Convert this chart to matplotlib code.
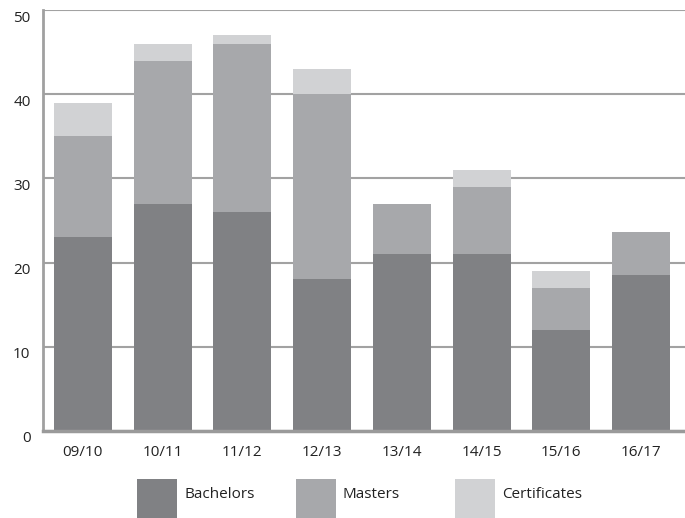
import matplotlib
matplotlib.use('Agg')
import matplotlib.pyplot as plt
import matplotlib.transforms as mtransforms
from matplotlib.patches import Rectangle
import numpy as np

years = ['09/10', '10/11', '11/12', '12/13', '13/14', '14/15', '15/16', '16/17']
bachelors = [23, 27, 26, 18, 21, 21, 12, 18.5]
masters = [12, 17, 20, 22, 6, 8, 5, 5.1]
certificates = [4, 2, 1, 3, 0, 2, 2, 0]
series_names = ['Bachelors', 'Masters', 'Certificates']
colors = ['#808184', '#a7a8ab', '#d1d2d4']
y_ticks = [0, 10, 20, 30, 40, 50]

plt.rcParams['font.family'] = ['Open Sans', 'DejaVu Sans']

fig = plt.figure(figsize=(6.85, 5.18), dpi=100)
ax = fig.add_axes([43 / 685, 87 / 518, 1 - 43 / 685, 421 / 518])

x = np.arange(len(years))
bottom = np.zeros(len(years))
for vals, col in zip([bachelors, masters, certificates], colors):
    vals = np.array(vals, dtype=float)
    ax.bar(x, vals, width=0.73, bottom=bottom, color=col, zorder=3, linewidth=0)
    bottom += vals

ax.set_xlim(-0.5, 7.55)
ax.set_ylim(0, 50)
ax.set_yticks(y_ticks)
ax.set_xticks(x)
ax.set_xticklabels(years)

# horizontal gridlines behind bars
ax.yaxis.grid(True, color='#a2a2a2', linewidth=1.5, zorder=0)
ax.set_axisbelow(True)

for side in ['top', 'right']:
    ax.spines[side].set_visible(False)
ax.spines['left'].set_color('#a0a0a0')
ax.spines['left'].set_linewidth(2)
ax.spines['bottom'].set_color('#9a9a9a')
ax.spines['bottom'].set_linewidth(2.5)
ax.spines['bottom'].set_zorder(4)

ax.tick_params(axis='both', length=0, labelsize=11, colors='#222222')
ax.tick_params(axis='x', pad=10)
ax.tick_params(axis='y', pad=9)

# nudge y labels slightly below their gridlines
offset = mtransforms.ScaledTranslation(0, -6 / 100, fig.dpi_scale_trans)
for lbl in ax.get_yticklabels():
    lbl.set_transform(lbl.get_transform() + offset)

# legend boxes along the bottom
legend_x = [137, 296, 455]
for lx, name, col in zip(legend_x, series_names, colors):
    fig.patches.append(Rectangle((lx / 685, 0), 40 / 685, 39 / 518,
                                 transform=fig.transFigure, color=col, linewidth=0))
    fig.text((lx + 47) / 685, 23 / 518, name, fontsize=11, color='#222222',
             va='center', ha='left')

fig.savefig('out.png', dpi=100)
